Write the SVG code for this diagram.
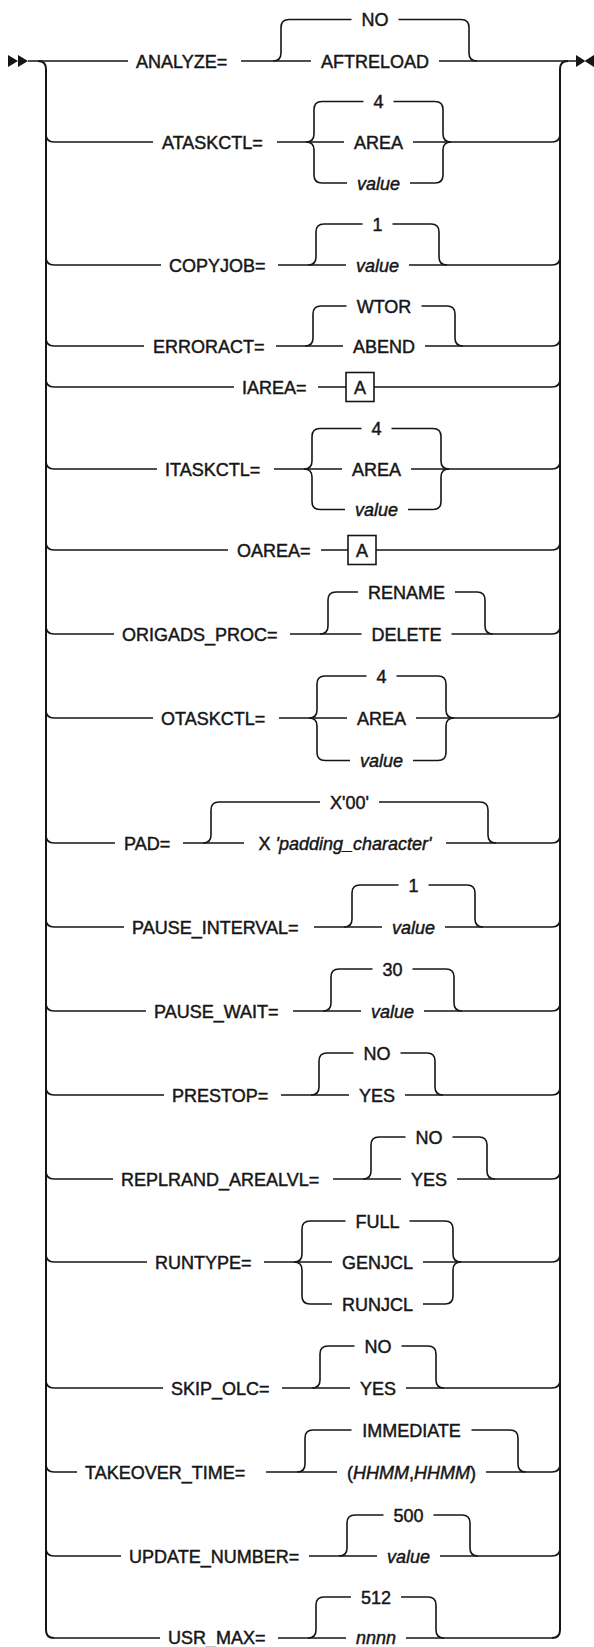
<svg xmlns="http://www.w3.org/2000/svg" width="594" height="1647" viewBox="0 0 594 1647">
<style>
text{font-family:"Liberation Sans",Arial,sans-serif;font-size:18px;fill:#161616;stroke:#161616;stroke-width:0.45}
.m{text-anchor:middle}
.i{font-style:italic}
.c path{fill:none;stroke:#161616;stroke-width:1.6}
.c path.rail{stroke-width:2}
.box{fill:#fff;stroke:#161616;stroke-width:1.6}
.ah{fill:#161616}
</style>
<g id="connectors" class="c">
<path class="rail" d="M38,61 Q46,61 46,69 L46,1630 Q46,1638 54,1638"/>
<path class="rail" d="M552,1638 Q560,1638 560,1630 L560,69 Q560,61 568,61"/>
<path d="M28,61 L128,61 M241,61 L311,61 M439,61 L577,61"/>
<path d="M273,61 Q281,61 281,53 L281,27.5 Q281,19.5 289,19.5 L351.5,19.5 M398.5,19.5 L461,19.5 Q469,19.5 469,27.5 L469,53 Q469,61 477,61"/>
<path d="M46,134 Q46,142 54,142 L153,142 M277,142 L344,142 M413,142 L552,142 Q560,142 560,134"/>
<path d="M306,142 Q314,142 314,134 L314,109.5 Q314,101.5 322,101.5 L363.5,101.5 M393.5,101.5 L435,101.5 Q443,101.5 443,109.5 L443,134 Q443,142 451,142"/>
<path d="M306,142 Q314,142 314,150 L314,175 Q314,183 322,183 L347,183 M410,183 L435,183 Q443,183 443,175 L443,150 Q443,142 451,142"/>
<path d="M46,257 Q46,265 54,265 L161,265 M278,265 L346,265 M409,265 L552,265 Q560,265 560,257"/>
<path d="M308,265 Q316,265 316,257 L316,232 Q316,224 324,224 L362.5,224 M392.5,224 L431,224 Q439,224 439,232 L439,257 Q439,265 447,265"/>
<path d="M46,338 Q46,346 54,346 L144,346 M276,346 L343,346 M425,346 L552,346 Q560,346 560,338"/>
<path d="M305,346 Q313,346 313,338 L313,314 Q313,306 321,306 L346.5,306 M421.5,306 L447,306 Q455,306 455,314 L455,338 Q455,346 463,346"/>
<path d="M46,379 Q46,387 54,387 L234,387 M318,387 L346,387 M374,387 L552,387 Q560,387 560,379"/>
<path d="M46,461 Q46,469 54,469 L157,469 M274,469 L342,469 M411,469 L552,469 Q560,469 560,461"/>
<path d="M304,469 Q312,469 312,461 L312,436.5 Q312,428.5 320,428.5 L361.5,428.5 M391.5,428.5 L433,428.5 Q441,428.5 441,436.5 L441,461 Q441,469 449,469"/>
<path d="M304,469 Q312,469 312,477 L312,501.5 Q312,509.5 320,509.5 L345,509.5 M408,509.5 L433,509.5 Q441,509.5 441,501.5 L441,477 Q441,469 449,469"/>
<path d="M46,542 Q46,550 54,550 L228,550 M321,550 L348,550 M376,550 L552,550 Q560,550 560,542"/>
<path d="M46,626 Q46,634 54,634 L114,634 M290,634 L361.5,634 M451.5,634 L552,634 Q560,634 560,626"/>
<path d="M320,634 Q328,634 328,626 L328,600 Q328,592 336,592 L358,592 M455,592 L477,592 Q485,592 485,600 L485,626 Q485,634 493,634"/>
<path d="M46,710 Q46,718 54,718 L153,718 M279,718 L347,718 M416,718 L552,718 Q560,718 560,710"/>
<path d="M309,718 Q317,718 317,710 L317,684 Q317,676 325,676 L366.5,676 M396.5,676 L438,676 Q446,676 446,684 L446,710 Q446,718 454,718"/>
<path d="M309,718 Q317,718 317,726 L317,752.5 Q317,760.5 325,760.5 L350,760.5 M413,760.5 L438,760.5 Q446,760.5 446,752.5 L446,726 Q446,718 454,718"/>
<path d="M46,835 Q46,843 54,843 L115,843 M183,843 L244,843 M446,843 L552,843 Q560,843 560,835"/>
<path d="M203,843 Q211,843 211,835 L211,810 Q211,802 219,802 L320,802 M379,802 L480,802 Q488,802 488,810 L488,835 Q488,843 496,843"/>
<path d="M46,919 Q46,927 54,927 L124,927 M314,927 L382,927 M445,927 L552,927 Q560,927 560,919"/>
<path d="M344,927 Q352,927 352,919 L352,893 Q352,885 360,885 L398.5,885 M428.5,885 L467,885 Q475,885 475,893 L475,919 Q475,927 483,927"/>
<path d="M46,1003 Q46,1011 54,1011 L146,1011 M293,1011 L361,1011 M424,1011 L552,1011 Q560,1011 560,1003"/>
<path d="M323,1011 Q331,1011 331,1003 L331,977 Q331,969 339,969 L372.5,969 M412.5,969 L446,969 Q454,969 454,977 L454,1003 Q454,1011 462,1011"/>
<path d="M46,1087 Q46,1095 54,1095 L164,1095 M281,1095 L349,1095 M405,1095 L552,1095 Q560,1095 560,1087"/>
<path d="M311,1095 Q319,1095 319,1087 L319,1061 Q319,1053 327,1053 L353.5,1053 M400.5,1053 L427,1053 Q435,1053 435,1061 L435,1087 Q435,1095 443,1095"/>
<path d="M46,1171 Q46,1179 54,1179 L113,1179 M333,1179 L401,1179 M457,1179 L552,1179 Q560,1179 560,1171"/>
<path d="M363,1179 Q371,1179 371,1171 L371,1145 Q371,1137 379,1137 L405.5,1137 M452.5,1137 L479,1137 Q487,1137 487,1145 L487,1171 Q487,1179 495,1179"/>
<path d="M46,1254 Q46,1262 54,1262 L147,1262 M264,1262 L332,1262 M423,1262 L552,1262 Q560,1262 560,1254"/>
<path d="M294,1262 Q302,1262 302,1254 L302,1229 Q302,1221 310,1221 L345.5,1221 M409.5,1221 L445,1221 Q453,1221 453,1229 L453,1254 Q453,1262 461,1262"/>
<path d="M294,1262 Q302,1262 302,1270 L302,1296 Q302,1304 310,1304 L332,1304 M423,1304 L445,1304 Q453,1304 453,1296 L453,1270 Q453,1262 461,1262"/>
<path d="M46,1380 Q46,1388 54,1388 L163,1388 M282,1388 L350,1388 M406,1388 L552,1388 Q560,1388 560,1380"/>
<path d="M312,1388 Q320,1388 320,1380 L320,1354 Q320,1346 328,1346 L354.5,1346 M401.5,1346 L428,1346 Q436,1346 436,1354 L436,1380 Q436,1388 444,1388"/>
<path d="M46,1464 Q46,1472 54,1472 L77,1472 M266,1472 L337,1472 M486,1472 L552,1472 Q560,1472 560,1464"/>
<path d="M297,1472 Q305,1472 305,1464 L305,1438 Q305,1430 313,1430 L351.5,1430 M471.5,1430 L510,1430 Q518,1430 518,1438 L518,1464 Q518,1472 526,1472"/>
<path d="M46,1548 Q46,1556 54,1556 L121,1556 M309,1556 L377,1556 M440,1556 L552,1556 Q560,1556 560,1548"/>
<path d="M339,1556 Q347,1556 347,1548 L347,1523 Q347,1515 355,1515 L383.5,1515 M433.5,1515 L462,1515 Q470,1515 470,1523 L470,1548 Q470,1556 478,1556"/>
<path d="M54,1638 L160,1638 M278,1638 L346,1638 M406,1638 L552,1638"/>
<path d="M308,1638 Q316,1638 316,1630 L316,1605 Q316,1597 324,1597 L351,1597 M401,1597 L428,1597 Q436,1597 436,1605 L436,1630 Q436,1638 444,1638"/>
</g>
<g id="start"><path class="ah" d="M8,55 L18,61 L8,67 Z M18,55 L28,61 L18,67 Z"/></g>
<g id="end"><path class="ah" d="M576,55 L585.5,61 L576,67 Z M594,55 L584.5,61 L594,67 Z"/></g>
<g id="analyze"><text x="136" y="67.5">ANALYZE=</text><text class="m" x="375" y="26">NO</text><text class="m" x="375" y="67.5">AFTRELOAD</text></g>
<g id="ataskctl"><text x="162" y="148.5">ATASKCTL=</text><text class="m" x="378.5" y="108">4</text><text class="m" x="378.5" y="148.5">AREA</text><text class="m i" x="378.5" y="189.5">value</text></g>
<g id="copyjob"><text x="169" y="271.5">COPYJOB=</text><text class="m" x="377.5" y="230.5">1</text><text class="m i" x="377.5" y="271.5">value</text></g>
<g id="erroract"><text x="153" y="352.5">ERRORACT=</text><text class="m" x="384" y="312.5">WTOR</text><text class="m" x="384" y="352.5">ABEND</text></g>
<g id="iarea"><text x="242" y="393.5">IAREA=</text><rect class="box" x="346" y="372.5" width="28" height="29"/><text class="m" x="360" y="393.5">A</text></g>
<g id="itaskctl"><text x="165" y="475.5">ITASKCTL=</text><text class="m" x="376.5" y="435">4</text><text class="m" x="376.5" y="475.5">AREA</text><text class="m i" x="376.5" y="516">value</text></g>
<g id="oarea"><text x="237" y="556.5">OAREA=</text><rect class="box" x="348" y="535.5" width="28" height="29"/><text class="m" x="362" y="556.5">A</text></g>
<g id="origads_proc"><text x="122" y="640.5">ORIGADS_PROC=</text><text class="m" x="406.5" y="598.5">RENAME</text><text class="m" x="406.5" y="640.5">DELETE</text></g>
<g id="otaskctl"><text x="161" y="724.5">OTASKCTL=</text><text class="m" x="381.5" y="682.5">4</text><text class="m" x="381.5" y="724.5">AREA</text><text class="m i" x="381.5" y="767">value</text></g>
<g id="pad"><text x="124" y="849.5">PAD=</text><text class="m" x="349.5" y="808.5">X'00'</text><text class="m" x="345" y="849.5">X <tspan class="i">'padding_character'</tspan></text></g>
<g id="pause_interval"><text x="132" y="933.5">PAUSE_INTERVAL=</text><text class="m" x="413.5" y="891.5">1</text><text class="m i" x="413.5" y="933.5">value</text></g>
<g id="pause_wait"><text x="154" y="1017.5">PAUSE_WAIT=</text><text class="m" x="392.5" y="975.5">30</text><text class="m i" x="392.5" y="1017.5">value</text></g>
<g id="prestop"><text x="172" y="1101.5">PRESTOP=</text><text class="m" x="377" y="1059.5">NO</text><text class="m" x="377" y="1101.5">YES</text></g>
<g id="replrand_arealvl"><text x="121" y="1185.5">REPLRAND_AREALVL=</text><text class="m" x="429" y="1143.5">NO</text><text class="m" x="429" y="1185.5">YES</text></g>
<g id="runtype"><text x="155" y="1268.5">RUNTYPE=</text><text class="m" x="377.5" y="1227.5">FULL</text><text class="m" x="377.5" y="1268.5">GENJCL</text><text class="m" x="377.5" y="1310.5">RUNJCL</text></g>
<g id="skip_olc"><text x="171" y="1394.5">SKIP_OLC=</text><text class="m" x="378" y="1352.5">NO</text><text class="m" x="378" y="1394.5">YES</text></g>
<g id="takeover_time"><text x="85" y="1478.5">TAKEOVER_TIME=</text><text class="m" x="411.5" y="1436.5">IMMEDIATE</text><text class="m" x="411.5" y="1478.5">(<tspan class="i">HHMM</tspan>,<tspan class="i">HHMM</tspan>)</text></g>
<g id="update_number"><text x="129" y="1562.5">UPDATE_NUMBER=</text><text class="m" x="408.5" y="1521.5">500</text><text class="m i" x="408.5" y="1562.5">value</text></g>
<g id="usr_max"><text x="168" y="1644">USR_MAX=</text><text class="m" x="376" y="1603.5">512</text><text class="m i" x="376" y="1644">nnnn</text></g>
</svg>
